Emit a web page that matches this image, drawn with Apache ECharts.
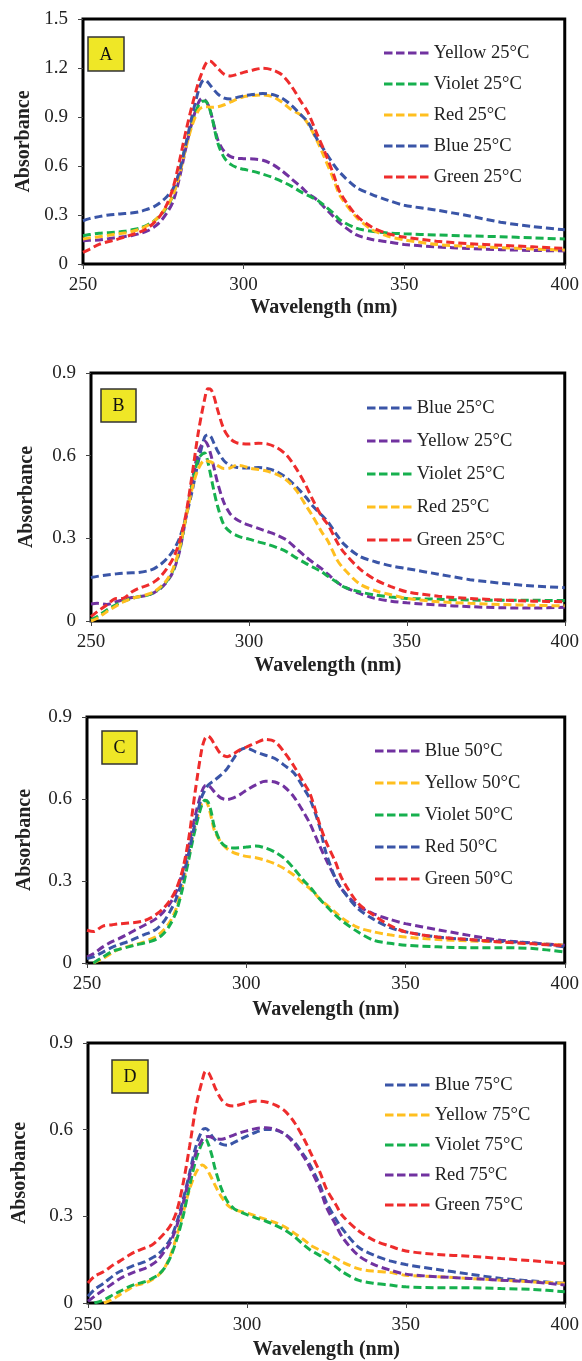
<!DOCTYPE html>
<html><head><meta charset="utf-8">
<script src="https://cdn.jsdelivr.net/npm/echarts@6/dist/echarts.min.js"></script>
<style>html,body{margin:0;padding:0;background:#fff}#c{width:582px;height:1361px}</style>
</head><body><div id="c"></div>
<script>
// ---------- data ----------
const wavelengths = [250,252,255,258,260,263,265,268,270,272,274,276,278,280,282,284,286,287,288,289,290,292,294,296,298,300,303,306,309,312,315,318,320,323,325,328,330,335,340,345,350,360,370,380,390,400];
const xTicks = [250, 300, 350, 400];
const yTicksA = [0, 0.3, 0.6, 0.9, 1.2, 1.5];
const yTicksBCD = [0, 0.3, 0.6, 0.9];
const panelLetters = ['A', 'B', 'C', 'D'];

// Panel A
const a_yellow25 = [.143,.145,.147,.155,.161,.168,.173,.188,.202,.225,.258,.31,.38,.524,.708,.871,.99,1.014,1.004,.973,.912,.759,.688,.657,.647,.645,.643,.635,.61,.57,.52,.47,.433,.39,.35,.29,.25,.18,.15,.135,.12,.105,.095,.088,.083,.08];
const a_violet25 = [.173,.18,.188,.192,.194,.2,.208,.222,.239,.262,.295,.345,.42,.565,.729,.871,.973,.995,.998,.973,.912,.739,.65,.61,.59,.58,.567,.55,.53,.505,.475,.44,.42,.39,.36,.31,.27,.22,.2,.19,.185,.178,.172,.167,.16,.153];
const a_red25 = [.153,.16,.167,.176,.182,.19,.198,.215,.235,.26,.3,.35,.42,.545,.708,.851,.943,.958,.963,.962,.959,.963,.975,.992,1.01,1.024,1.032,1.035,1.025,.99,.943,.91,.86,.75,.66,.52,.42,.29,.21,.17,.148,.12,.108,.1,.092,.085];
const a_blue25 = [.265,.278,.29,.3,.304,.309,.312,.322,.335,.35,.375,.41,.46,.565,.73,.91,1.065,1.115,1.127,1.11,1.085,1.04,1.015,1.01,1.02,1.03,1.038,1.044,1.038,1.015,.97,.91,.87,.76,.70,.61,.56,.47,.425,.39,.36,.33,.295,.256,.229,.209];
const a_green25 = [.071,.09,.12,.138,.147,.165,.178,.198,.218,.25,.295,.36,.463,.627,.81,.973,1.116,1.17,1.218,1.243,1.239,1.198,1.161,1.151,1.161,1.173,1.188,1.198,1.188,1.157,1.086,.99,.93,.79,.70,.55,.44,.30,.225,.185,.165,.14,.125,.115,.105,.095];

// Panel B
const b_blue25 = [.158,.162,.167,.171,.173,.175,.176,.182,.19,.205,.226,.255,.30,.375,.47,.58,.668,.676,.668,.643,.619,.583,.565,.558,.555,.555,.557,.553,.541,.519,.487,.45,.42,.385,.36,.31,.28,.235,.215,.20,.19,.17,.15,.137,.127,.121];
const b_yellow25 = [.062,.064,.06,.07,.076,.085,.088,.094,.103,.118,.142,.179,.251,.372,.505,.613,.652,.637,.601,.553,.505,.432,.39,.369,.357,.348,.336,.324,.311,.293,.263,.233,.215,.19,.17,.14,.125,.10,.082,.072,.066,.058,.052,.048,.047,.05];
const b_violet25 = [.005,.016,.04,.06,.07,.082,.088,.094,.104,.121,.145,.185,.257,.372,.493,.589,.61,.577,.523,.468,.42,.35,.324,.311,.302,.297,.287,.278,.266,.251,.229,.209,.197,.179,.162,.14,.124,.106,.094,.087,.082,.079,.076,.075,.075,.074];
const b_red25 = [0,.01,.034,.055,.068,.082,.088,.097,.106,.124,.148,.19,.263,.372,.48,.553,.583,.58,.577,.571,.565,.553,.555,.565,.563,.555,.55,.543,.531,.51,.474,.42,.384,.324,.29,.22,.19,.135,.11,.095,.082,.07,.064,.06,.057,.055];
const b_green25 = [.016,.034,.058,.082,.082,.106,.118,.13,.142,.161,.19,.227,.287,.384,.529,.686,.806,.843,.84,.8125,.77,.698,.662,.647,.643,.642,.645,.642,.628,.601,.553,.4925,.445,.38,.35,.285,.25,.19,.15,.125,.106,.09,.082,.076,.072,.07];

// Panel C
const c_blue50 = [.022,.034,.059,.079,.089,.107,.12,.138,.15,.165,.187,.217,.26,.333,.43,.54,.626,.648,.65,.64,.626,.604,.598,.604,.616,.632,.652,.665,.662,.644,.607,.552,.51,.43,.38,.31,.27,.21,.18,.16,.144,.122,.101,.083,.073,.065];
const c_yellow50 = [null,0,.016,.038,.05,.061,.067,.077,.087,.099,.12,.15,.199,.284,.394,.504,.583,.595,.577,.534,.485,.443,.418,.404,.396,.39,.385,.376,.363,.345,.321,.29,.272,.235,.215,.185,.165,.13,.114,.103,.095,.086,.081,.077,.071,.065];
const c_violet50 = [null,0,.022,.043,.05,.059,.065,.073,.079,.089,.107,.138,.187,.272,.382,.491,.577,.595,.589,.552,.498,.443,.424,.421,.422,.424,.428,.421,.406,.382,.345,.302,.278,.235,.21,.175,.155,.114,.083,.072,.065,.059,.056,.056,.053,.04];
const c_red50 = [.016,.022,.04,.058,.067,.079,.089,.104,.113,.126,.15,.187,.235,.309,.406,.516,.607,.632,.65,.66,.668,.687,.711,.748,.778,.787,.772,.76,.748,.723,.695,.64,.60,.50,.405,.31,.27,.20,.16,.13,.114,.095,.086,.079,.073,.059];
const c_green50 = [.12,.115,.135,.14,.143,.146,.148,.155,.165,.18,.20,.228,.27,.34,.46,.63,.78,.82,.83,.82,.80,.765,.755,.765,.78,.79,.805,.818,.81,.77,.72,.66,.62,.51,.445,.37,.31,.22,.175,.138,.114,.095,.086,.077,.07,.063];

// Panel D
const d_blue75 = [.023,.046,.069,.095,.109,.123,.132,.143,.155,.168,.191,.223,.281,.361,.452,.544,.599,.604,.596,.578,.565,.55,.546,.556,.567,.578,.592,.601,.599,.584,.556,.51,.475,.407,.349,.29,.257,.194,.165,.146,.133,.116,.10,.085,.076,.068];
const d_yellow75 = [null,null,0,.014,.029,.049,.061,.069,.08,.095,.12,.166,.235,.315,.395,.452,.478,.47,.452,.43,.407,.367,.338,.324,.317,.312,.30,.289,.278,.263,.241,.218,.20,.183,.172,.155,.142,.119,.11,.106,.096,.091,.085,.079,.073,.068];
const d_violet75 = [null,0,.011,.029,.04,.057,.065,.074,.084,.097,.12,.16,.223,.304,.407,.498,.556,.567,.546,.51,.464,.395,.349,.326,.315,.306,.294,.283,.269,.252,.229,.20,.183,.164,.149,.125,.108,.079,.068,.062,.056,.053,.053,.05,.047,.039];
const d_red75 = [.006,.023,.046,.069,.084,.10,.109,.12,.132,.149,.178,.212,.269,.349,.441,.521,.567,.575,.576,.573,.569,.567,.573,.582,.59,.596,.604,.607,.601,.584,.55,.504,.464,.395,.332,.27,.228,.165,.133,.114,.10,.091,.085,.079,.073,.062];
const d_green75 = [.069,.092,.109,.132,.145,.166,.178,.191,.20,.218,.241,.269,.321,.418,.544,.682,.773,.802,.796,.773,.745,.704,.685,.682,.687,.693,.699,.696,.685,.664,.624,.567,.521,.452,.395,.34,.303,.251,.217,.197,.18,.168,.162,.154,.146,.137];

// ---------- styling ----------
const PURPLE = '#7132A0', GREEN = '#16B04E', ORANGE = '#FFBF1F', BLUE = '#3A55A7', RED = '#EE2C2C';
const SERIF = '"Liberation Serif", "Times New Roman", serif';

const panels = [
  { grid: {left: 83, top: 19, width: 487, height: 245}, yMax: 1.5, yTicks: yTicksA,
    yNameGap: 49, xLabelMargin: 12, xNameGap: 34,
    legend: {left: 384, top: 43, gap: 11},
    box: {x: 88, y: 37, w: 36, h: 34},
    series: [['Yellow 25°C', a_yellow25, PURPLE], ['Violet 25°C', a_violet25, GREEN], ['Red 25°C', a_red25, ORANGE], ['Blue 25°C', a_blue25, BLUE], ['Green 25°C', a_green25, RED]] },
  { grid: {left: 91, top: 373, width: 479, height: 248}, yMax: 0.9, yTicks: yTicksBCD,
    yNameGap: 54, xLabelMargin: 12, xNameGap: 35,
    legend: {left: 367, top: 398, gap: 13},
    box: {x: 101, y: 389, w: 35, h: 33},
    series: [['Blue 25°C', b_blue25, BLUE], ['Yellow 25°C', b_yellow25, PURPLE], ['Violet 25°C', b_violet25, GREEN], ['Red 25°C', b_red25, ORANGE], ['Green 25°C', b_green25, RED]] },
  { grid: {left: 87, top: 717, width: 480, height: 246}, yMax: 0.9, yTicks: yTicksBCD,
    yNameGap: 52, xLabelMargin: 12, xNameGap: 37,
    legend: {left: 375, top: 741, gap: 12},
    box: {x: 102, y: 731, w: 35, h: 33},
    series: [['Blue 50°C', c_blue50, PURPLE], ['Yellow 50°C', c_yellow50, ORANGE], ['Violet 50°C', c_violet50, GREEN], ['Red 50°C', c_red50, BLUE], ['Green 50°C', c_green50, RED]] },
  { grid: {left: 88, top: 1043, width: 481, height: 262}, yMax: 0.9, yTicks: yTicksBCD,
    yNameGap: 58, xLabelMargin: 13, xNameGap: 37,
    legend: {left: 385, top: 1075, gap: 10},
    box: {x: 112, y: 1060, w: 36, h: 33},
    series: [['Blue 75°C', d_blue75, BLUE], ['Yellow 75°C', d_yellow75, ORANGE], ['Violet 75°C', d_violet75, GREEN], ['Red 75°C', d_red75, PURPLE], ['Green 75°C', d_green75, RED]] }
];

const dashIcon = 'path://M0,0h8.5v3h-8.5z M12,0h8.5v3h-8.5z M24,0h8.5v3h-8.5z M36,0h8.5v3h-8.5z';

const option = {
  animation: false,
  backgroundColor: '#fff',
  grid: [], xAxis: [], yAxis: [], legend: [], series: [], graphic: []
};

panels.forEach((p, i) => {
  option.grid.push(Object.assign({show: true, borderColor: '#000', borderWidth: 3, backgroundColor: 'transparent'}, p.grid));
  option.xAxis.push({
    gridIndex: i, type: 'value', min: xTicks[0], max: xTicks[xTicks.length - 1], interval: xTicks[1] - xTicks[0],
    axisLine: {show: true, onZero: false, lineStyle: {color: '#000', width: 1}},
    axisTick: {show: true, length: 5, lineStyle: {color: '#444'}},
    splitLine: {show: false},
    axisLabel: {fontFamily: SERIF, fontSize: 19, color: '#222', margin: p.xLabelMargin},
    name: 'Wavelength (nm)', nameLocation: 'middle', nameGap: p.xNameGap,
    nameTextStyle: {fontFamily: SERIF, fontSize: 20, fontWeight: 'bold', color: '#222'}
  });
  option.yAxis.push({
    gridIndex: i, type: 'value', min: 0, max: p.yMax, interval: p.yTicks[1] - p.yTicks[0],
    axisLine: {show: true, lineStyle: {color: '#000', width: 1}},
    axisTick: {show: true, length: 5, lineStyle: {color: '#444'}},
    splitLine: {show: false},
    axisLabel: {fontFamily: SERIF, fontSize: 19, color: '#222', margin: 15,
      formatter: v => (Math.abs(v) < 1e-9 ? '0' : v.toFixed(1))},
    name: 'Absorbance', nameLocation: 'middle', nameGap: p.yNameGap, nameRotate: 90,
    nameTextStyle: {fontFamily: SERIF, fontSize: 20, fontWeight: 'bold', color: '#222'}
  });
  option.legend.push({
    orient: 'vertical', left: p.legend.left, top: p.legend.top, itemGap: p.legend.gap,
    itemWidth: 45, itemHeight: 3, icon: dashIcon, padding: 0,
    textStyle: {fontFamily: SERIF, fontSize: 18.5, color: '#222', lineHeight: 20},
    data: p.series.map(s => s[0])
  });
  p.series.forEach(s => {
    option.series.push({
      type: 'line', name: s[0], xAxisIndex: i, yAxisIndex: i,
      data: wavelengths.map((w, k) => [w, s[1][k]]),
      symbol: 'none', showSymbol: false, smooth: 0.3, connectNulls: false,
      lineStyle: {color: s[2], width: 3, type: [8, 4]},
      itemStyle: {color: s[2]}
    });
  });
  option.graphic.push({
    type: 'rect', x: p.box.x, y: p.box.y, shape: {width: p.box.w, height: p.box.h},
    style: {fill: '#EFE726', stroke: '#333', lineWidth: 1.5}, z: 10
  });
  option.graphic.push({
    type: 'text', x: p.box.x + p.box.w / 2, y: p.box.y + p.box.h / 2 + 1,
    style: {text: panelLetters[i], fontFamily: SERIF, fontSize: 18, fill: '#111', align: 'center', verticalAlign: 'middle'}, z: 11
  });
});

const chart = echarts.init(document.getElementById('c'), null, {renderer: 'canvas'});
chart.setOption(option);
</script>
</body></html>
